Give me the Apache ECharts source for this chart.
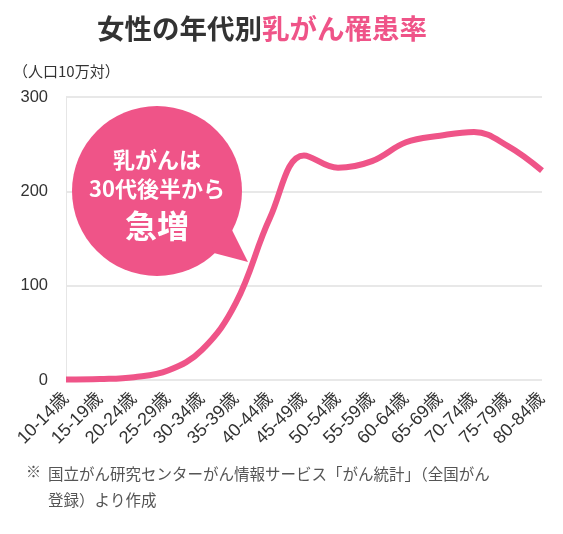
<!DOCTYPE HTML>
<html style="height: 100%">
<head>
    <meta charset="utf-8">
    <title>女性の年代別乳がん罹患率</title>
    <style>
        html, body { margin: 0; padding: 0; background: #fff; }
        #container { width: 563px; height: 534px; }
    </style>
</head>
<body>
    <div id="container"></div>
    <script src="https://cdn.jsdelivr.net/npm/echarts@6/dist/echarts.min.js"></script>
    <script>
        // 年代
        var ages = ['10-14歳', '15-19歳', '20-24歳', '25-29歳', '30-34歳', '35-39歳', '40-44歳', '45-49歳',
            '50-54歳', '55-59歳', '60-64歳', '65-69歳', '70-74歳', '75-79歳', '80-84歳'];
        // 罹患率（人口10万対）
        var rates = [0.5, 1, 3, 10, 32, 82, 172, 238, 225, 232, 252, 259, 263, 248, 222];
        var yTicks = [0, 100, 200, 300];

        var pink = '#ef5488';
        var font = '"Noto Sans CJK JP", "Noto Sans", sans-serif';
        var numFont = '"Liberation Sans", "Noto Sans CJK JP", sans-serif';

        var dom = document.getElementById('container');
        var myChart = echarts.init(dom);

        function bubbleText(y, text, size) {
            return {
                type: 'text',
                z: 100,
                style: {
                    x: 157, y: y, text: text, fontSize: size, fontWeight: 'bold',
                    fill: '#fff', align: 'center', verticalAlign: 'middle', fontFamily: font
                }
            };
        }

        var option = {
            backgroundColor: '#fff',
            textStyle: { fontFamily: font },
            animation: false,
            grid: { left: 66, right: 21, top: 97, bottom: 154 },
            xAxis: {
                type: 'category',
                data: ages,
                boundaryGap: false,
                axisLine: { show: false },
                axisTick: { show: false },
                axisLabel: {
                    rotate: 45,
                    interval: 0,
                    margin: 16,
                    fontSize: 18,
                    color: '#333',
                    fontFamily: numFont
                }
            },
            yAxis: {
                type: 'value',
                min: yTicks[0],
                max: yTicks[yTicks.length - 1],
                interval: 100,
                axisLine: { show: true, lineStyle: { color: '#e6e6e6', width: 1 } },
                axisTick: { show: false },
                splitLine: { lineStyle: { color: '#e0e0e0', width: 1.5 } },
                axisLabel: {
                    fontSize: 16.5,
                    color: '#333',
                    margin: 18,
                    fontFamily: numFont
                }
            },
            series: [{
                type: 'line',
                data: rates,
                smooth: 0.4,
                symbol: 'none',
                lineStyle: { color: pink, width: 6 },
                z: 3
            }],
            graphic: [
                {
                    type: 'text',
                    left: 97,
                    top: 15,
                    style: {
                        text: '{a|女性の年代別}{b|乳がん罹患率}',
                        rich: {
                            a: { fontSize: 27.5, fontWeight: 'bold', fill: '#333', fontFamily: font },
                            b: { fontSize: 27.5, fontWeight: 'bold', fill: pink, fontFamily: font }
                        }
                    }
                },
                {
                    type: 'text',
                    left: 13,
                    top: 64,
                    style: { text: '（人口10万対）', fontSize: 15, fill: '#333', fontFamily: font }
                },
                // 吹き出し
                {
                    type: 'circle',
                    z: 100,
                    shape: { cx: 157, cy: 191, r: 85 },
                    style: { fill: pink }
                },
                {
                    type: 'polygon',
                    z: 100,
                    shape: { points: [[228, 222], [248, 262], [210, 252]] },
                    style: { fill: pink }
                },
                bubbleText(160, '乳がんは', 22),
                bubbleText(189, '30代後半から', 22),
                bubbleText(226, '急増', 32),
                // 出典
                {
                    type: 'text',
                    left: 26,
                    top: 464,
                    style: { text: '※', fontSize: 15, fill: '#555', fontFamily: font }
                },
                {
                    type: 'text',
                    left: 48,
                    top: 461,
                    style: {
                        text: '国立がん研究センターがん情報サービス「がん統計」（全国がん\n登録）より作成',
                        fontSize: 15.5, lineHeight: 26, fill: '#555', fontFamily: font
                    }
                }
            ]
        };
        myChart.setOption(option);
    </script>
</body>
</html>
